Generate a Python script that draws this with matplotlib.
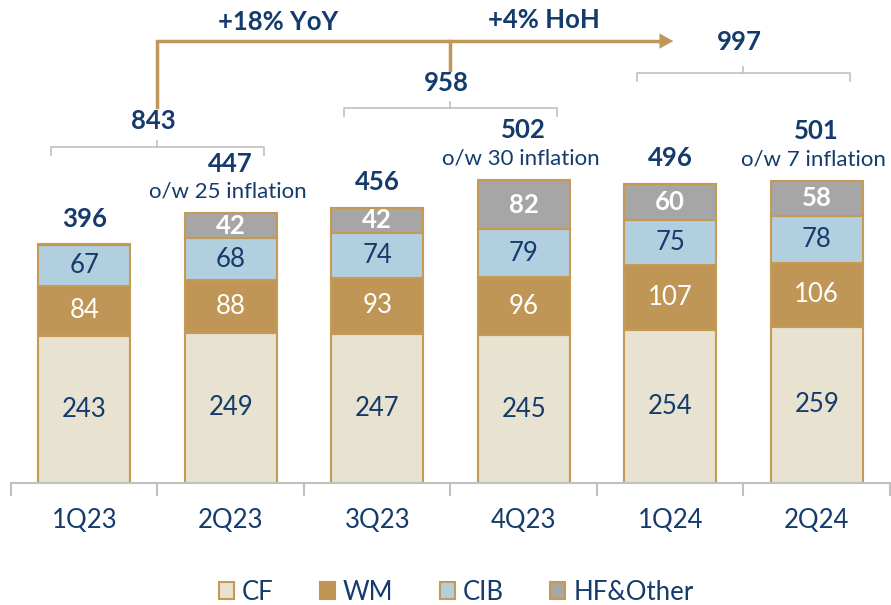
import matplotlib
matplotlib.use("Agg")
import matplotlib.pyplot as plt
from matplotlib.patches import Patch
import numpy as np

# ─── Data ─────────────────────────────────────────────────────────────────────
quarters  = ["1Q23", "2Q23", "3Q23", "4Q23", "1Q24", "2Q24"]
cf        = [243, 249, 247, 245, 254, 259]
wm        = [84, 88, 93, 96, 107, 106]
cib       = [67, 68, 74, 79, 75, 78]
hf_other  = [2, 42, 42, 82, 60, 58]
hf_shown  = [False, True, True, True, True, True]
inflation = [None, 25, None, 30, None, 7]
growth_yoy = "+18% YoY"
growth_hoh = "+4% HoH"

# ─── Style ────────────────────────────────────────────────────────────────────
NAVY  = "#143B6B"
GOLD  = "#C0975A"
EDGE  = "#C49A55"
C_CF  = "#E8E2D0"
C_WM  = "#BF9656"
C_CIB = "#B2CFE0"
C_HF  = "#A6A6A6"
GREY  = "#C0C0C0"
plt.rcParams["font.family"] = ["Lato", "DejaVu Sans"]

fig = plt.figure(figsize=(8.91, 6.05), dpi=100)
ax = fig.add_axes([11 / 891, 122 / 605, 879 / 891, 483 / 605])
ax.set_xlim(-0.5, 5.5)
ax.set_ylim(0, 800)

x = np.arange(len(quarters))
W = 0.63
totals = [a + b + c + d for a, b, c, d in zip(cf, wm, cib, hf_other)]

segments = [(cf, C_CF, NAVY, "normal"), (wm, C_WM, "white", "normal"),
            (cib, C_CIB, NAVY, "normal"), (hf_other, C_HF, "white", "bold")]
bottom = np.zeros(len(quarters))
for k, (vals, col, tcol, fw) in enumerate(segments):
    ax.bar(x, vals, W, bottom=bottom, color=col, edgecolor=EDGE, linewidth=1.5, zorder=2)
    for i, v in enumerate(vals):
        if k == 3 and not hf_shown[i]:
            continue
        ax.text(x[i], bottom[i] + v / 2, str(v), ha="center", va="center",
                color=tcol, fontsize=18.5, fontweight=fw, zorder=3)
    bottom += np.array(vals)

# totals + inflation notes
for i, t in enumerate(totals):
    if inflation[i] is None:
        ax.text(x[i], t + 42, str(t), ha="center", va="center", color=NAVY,
                fontsize=18.5, fontweight="bold", clip_on=False)
    else:
        ax.text(x[i], t + 82, str(t), ha="center", va="center", color=NAVY,
                fontsize=18.5, fontweight="bold", clip_on=False)
        ax.text(x[i] - 0.02, t + 35, f"o/w {inflation[i]} inflation", ha="center",
                va="center", color=NAVY, fontsize=16, clip_on=False)

# half-year brackets
half_y   = [556, 621, 679]
label_y  = [600, 662, 730]
for h in range(3):
    i0, i1 = 2 * h, 2 * h + 1
    xl, xr, xc = i0 - 0.23, i1 + 0.23, i0 + 0.5
    yb = half_y[h]
    ax.plot([xl, xl, xr, xr], [yb - 13, yb, yb, yb - 13], color=GREY, lw=1.2,
            clip_on=False)
    ax.plot([xc, xc], [yb, yb + 10], color=GREY, lw=1.2, clip_on=False)
    ax.text(xc - 0.03, label_y[h], str(totals[i0] + totals[i1]), ha="center",
            va="center", color=NAVY, fontsize=18.5, fontweight="bold", clip_on=False)

# growth arrow
ARROW_Y = 732
ax.plot([0.5, 0.5, 3.92], [623, ARROW_Y, ARROW_Y], color=GOLD, lw=2.5,
        solid_joinstyle="miter", clip_on=False)
ax.plot([2.5, 2.5], [ARROW_Y, 684], color=GOLD, lw=2.5, clip_on=False)
ax.annotate("", xy=(4.04, ARROW_Y), xytext=(3.9, ARROW_Y),
            arrowprops=dict(arrowstyle="-|>,head_length=1.0,head_width=0.55",
                            color=GOLD, lw=0), annotation_clip=False)
ax.text(1.32, 763, growth_yoy, ha="center", va="center", color=NAVY,
        fontsize=18.5, fontweight="bold", clip_on=False)
ax.text(3.14, 767, growth_hoh, ha="center", va="center", color=NAVY,
        fontsize=18.5, fontweight="bold", clip_on=False)

# axes cosmetics
for s in ("top", "right", "left"):
    ax.spines[s].set_visible(False)
ax.spines["bottom"].set_color(GREY)
ax.spines["bottom"].set_linewidth(1.5)
ax.set_yticks([])
ax.set_xticks(x)
ax.set_xticklabels(quarters, fontsize=18.5, color=NAVY)
ax.tick_params(axis="x", which="major", length=0, pad=18)
ax.set_xticks(np.arange(-0.5, 6, 1), minor=True)
ax.tick_params(axis="x", which="minor", length=9, color=GREY, width=1.5)

handles = [Patch(facecolor=c, edgecolor=EDGE, linewidth=1.5) for c in (C_CF, C_WM, C_CIB, C_HF)]
handles[1].set_edgecolor(C_WM)
fig.legend(handles, ["CF", "WM", "CIB", "HF&Other"], loc="center",
           bbox_to_anchor=(456 / 891, 13 / 605), ncol=4, frameon=False,
           fontsize=18.5, labelcolor=NAVY, handlelength=0.6, handleheight=0.6,
           handletextpad=0.3, columnspacing=1.8)

fig.savefig("out.png", dpi=100)
